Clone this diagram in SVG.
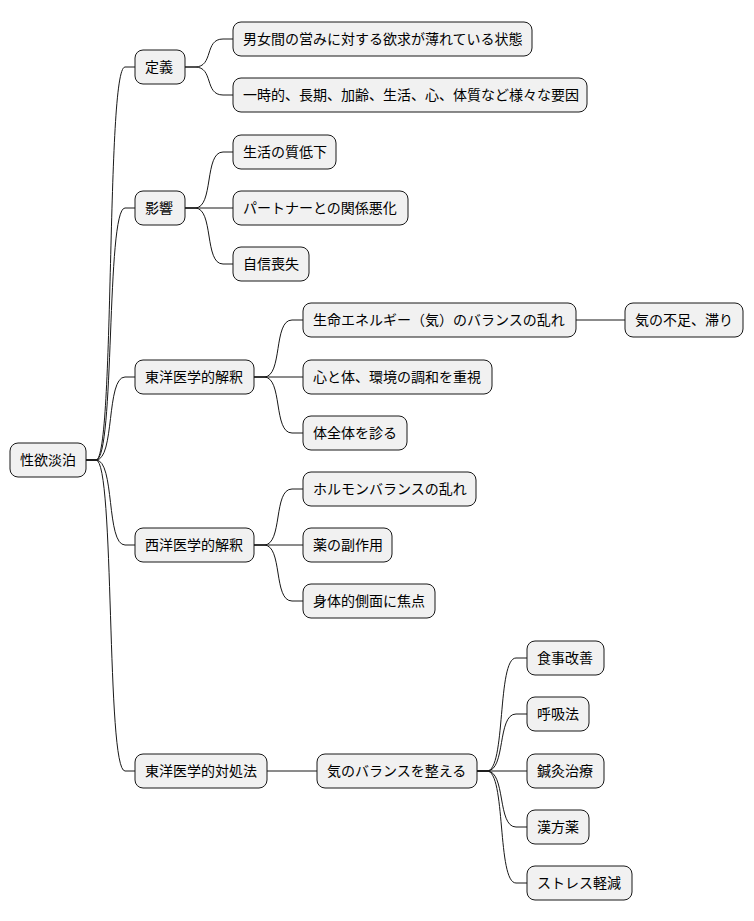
<svg xmlns="http://www.w3.org/2000/svg" width="754" height="921" viewBox="0 0 754 921">
<style>
rect{fill:#F1F1F1;stroke:#181818;stroke-width:1}
text{font-family:"Noto Sans CJK JP","Liberation Sans",sans-serif;font-size:14px;fill:#000}
#connectors path{fill:none;stroke:#181818;stroke-width:1}
</style>
<rect x="0" y="0" width="754" height="921" style="fill:#fff;stroke:none"/>
<g id="connectors">
<path d="M86,460 L96,460 C115,460 106,67 125,67 L135,67"/>
<path d="M86,460 L96,460 C115,460 106,208 125,208 L135,208"/>
<path d="M86,460 L96,460 C115,460 106,377 125,377 L135,377"/>
<path d="M86,460 L96,460 C115,460 106,545 125,545 L135,545"/>
<path d="M86,460 L96,460 C115,460 106,771 125,771 L135,771"/>
<path d="M185,67 L195,67 C214,67 204,39 223,39 L233,39"/>
<path d="M185,67 L195,67 C214,67 204,95 223,95 L233,95"/>
<path d="M185,208 L195,208 C214,208 204,152 223,152 L233,152"/>
<path d="M185,208 L233,208"/>
<path d="M185,208 L195,208 C214,208 204,264 223,264 L233,264"/>
<path d="M254,377 L264,377 C283,377 273,320 292,320 L303,320"/>
<path d="M254,377 L303,377"/>
<path d="M254,377 L264,377 C283,377 273,433 292,433 L303,433"/>
<path d="M576,320 L625,320"/>
<path d="M254,545 L264,545 C283,545 273,489 292,489 L303,489"/>
<path d="M254,545 L303,545"/>
<path d="M254,545 L264,545 C283,545 273,601 292,601 L303,601"/>
<path d="M267,771 L317,771"/>
<path d="M477,771 L487,771 C506,771 497,658 516,658 L527,658"/>
<path d="M477,771 L487,771 C506,771 497,714 516,714 L527,714"/>
<path d="M477,771 L527,771"/>
<path d="M477,771 L487,771 C506,771 497,827 516,827 L527,827"/>
<path d="M477,771 L487,771 C506,771 497,883 516,883 L527,883"/>
</g>
<g id="n0"><rect x="10" y="443" width="76" height="34" rx="8"/><text x="20" y="465">性欲淡泊</text></g>
<g id="n1"><rect x="135" y="50" width="50" height="34" rx="8"/><text x="145" y="72">定義</text></g>
<g id="n2"><rect x="233" y="22" width="299" height="34" rx="8"/><text x="243" y="44">男女間の営みに対する欲求が薄れている状態</text></g>
<g id="n3"><rect x="233" y="78" width="354" height="34" rx="8"/><text x="243" y="100">一時的、長期、加齢、生活、心、体質など様々な要因</text></g>
<g id="n4"><rect x="135" y="191" width="50" height="34" rx="8"/><text x="145" y="213">影響</text></g>
<g id="n5"><rect x="233" y="135" width="103" height="34" rx="8"/><text x="243" y="157">生活の質低下</text></g>
<g id="n6"><rect x="233" y="191" width="175" height="34" rx="8"/><text x="243" y="213">パートナーとの関係悪化</text></g>
<g id="n7"><rect x="233" y="247" width="76" height="34" rx="8"/><text x="243" y="269">自信喪失</text></g>
<g id="n8"><rect x="135" y="360" width="119" height="34" rx="8"/><text x="145" y="382">東洋医学的解釈</text></g>
<g id="n9"><rect x="303" y="303" width="273" height="34" rx="8"/><text x="313" y="325">生命エネルギー（気）のバランスの乱れ</text></g>
<g id="n10"><rect x="625" y="303" width="118" height="34" rx="8"/><text x="635" y="325">気の不足、滞り</text></g>
<g id="n11"><rect x="303" y="360" width="189" height="34" rx="8"/><text x="313" y="382">心と体、環境の調和を重視</text></g>
<g id="n12"><rect x="303" y="416" width="104" height="34" rx="8"/><text x="313" y="438">体全体を診る</text></g>
<g id="n13"><rect x="135" y="528" width="119" height="34" rx="8"/><text x="145" y="550">西洋医学的解釈</text></g>
<g id="n14"><rect x="303" y="472" width="173" height="34" rx="8"/><text x="313" y="494">ホルモンバランスの乱れ</text></g>
<g id="n15"><rect x="303" y="528" width="89" height="34" rx="8"/><text x="313" y="550">薬の副作用</text></g>
<g id="n16"><rect x="303" y="584" width="132" height="34" rx="8"/><text x="313" y="606">身体的側面に焦点</text></g>
<g id="n17"><rect x="135" y="754" width="132" height="34" rx="8"/><text x="145" y="776">東洋医学的対処法</text></g>
<g id="n18"><rect x="317" y="754" width="160" height="34" rx="8"/><text x="327" y="776">気のバランスを整える</text></g>
<g id="n19"><rect x="527" y="641" width="77" height="34" rx="8"/><text x="537" y="663">食事改善</text></g>
<g id="n20"><rect x="527" y="697" width="62" height="34" rx="8"/><text x="537" y="719">呼吸法</text></g>
<g id="n21"><rect x="527" y="754" width="77" height="34" rx="8"/><text x="537" y="776">鍼灸治療</text></g>
<g id="n22"><rect x="527" y="810" width="62" height="34" rx="8"/><text x="537" y="832">漢方薬</text></g>
<g id="n23"><rect x="527" y="866" width="105" height="34" rx="8"/><text x="537" y="888">ストレス軽減</text></g>
</svg>
